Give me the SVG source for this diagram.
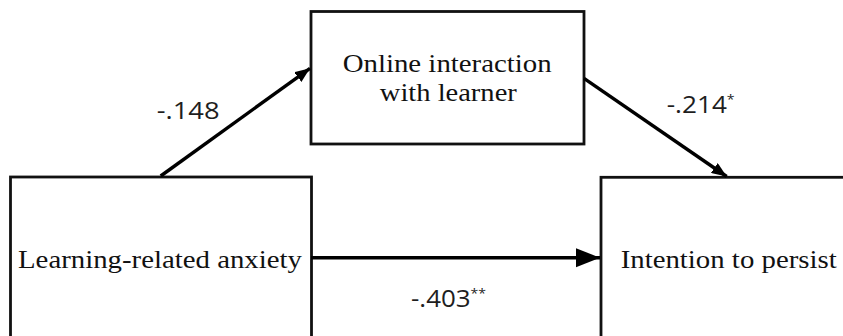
<svg xmlns="http://www.w3.org/2000/svg" width="843" height="336" viewBox="0 0 843 336">
<style>
.box{fill:#fff;stroke:#111;stroke-width:2.8}
.nt{font-family:"Liberation Serif","Times New Roman",serif;fill:#111;text-anchor:middle}
.lb{font-family:"Open Sans","Liberation Sans",sans-serif;fill:#1e1e1e;font-size:24px}
.sup{font-size:13px}
.ar{stroke:#000;stroke-width:3.4;fill:none}
</style>
<defs>
<marker id="big" markerUnits="userSpaceOnUse" markerWidth="24" markerHeight="20" refX="24" refY="9.5" orient="auto" viewBox="0 0 24 19">
<path d="M0,0 L24,9.5 L0,19 z" fill="#000"/>
</marker>
<marker id="small" markerUnits="userSpaceOnUse" markerWidth="15" markerHeight="12" refX="15" refY="6" orient="auto" viewBox="0 0 15 12">
<path d="M0,0 L15,6 L0,12 z" fill="#000"/>
</marker>
</defs>
<rect width="843" height="336" fill="#fff"/>
<g id="node-anxiety">
<rect class="box" x="10.5" y="177" width="301" height="200"/>
<text class="nt" x="160" y="268" font-size="26" textLength="284" lengthAdjust="spacingAndGlyphs">Learning-related anxiety</text>
</g>
<g id="node-interaction">
<rect class="box" x="311" y="11.5" width="273" height="132.5"/>
<text class="nt" x="447.2" y="72" font-size="25" textLength="209" lengthAdjust="spacingAndGlyphs">Online interaction</text>
<text class="nt" x="448.3" y="100.5" font-size="25" textLength="137" lengthAdjust="spacingAndGlyphs">with learner</text>
</g>
<g id="node-persist">
<rect class="box" x="601" y="177.3" width="300" height="200"/>
<text class="nt" x="728.7" y="268" font-size="26" textLength="216" lengthAdjust="spacingAndGlyphs">Intention to persist</text>
</g>
<g id="connectors">
<line class="ar" x1="160.7" y1="176" x2="310" y2="68.3" marker-end="url(#small)"/>
<line class="ar" x1="584" y1="78.3" x2="726.7" y2="176.5" marker-end="url(#small)"/>
<line class="ar" x1="311" y1="257.7" x2="600" y2="257.7" marker-end="url(#big)"/>
<text class="lb" transform="translate(156.7,118.5) scale(1.14,1)">-.148</text>
<text class="lb" transform="translate(666.7,113) scale(1.09,1)">-.214<tspan class="sup" dy="-9">*</tspan></text>
<text class="lb" transform="translate(411,307) scale(1.08,1)">-.403<tspan class="sup" dy="-9">**</tspan></text>
</g>
</svg>
